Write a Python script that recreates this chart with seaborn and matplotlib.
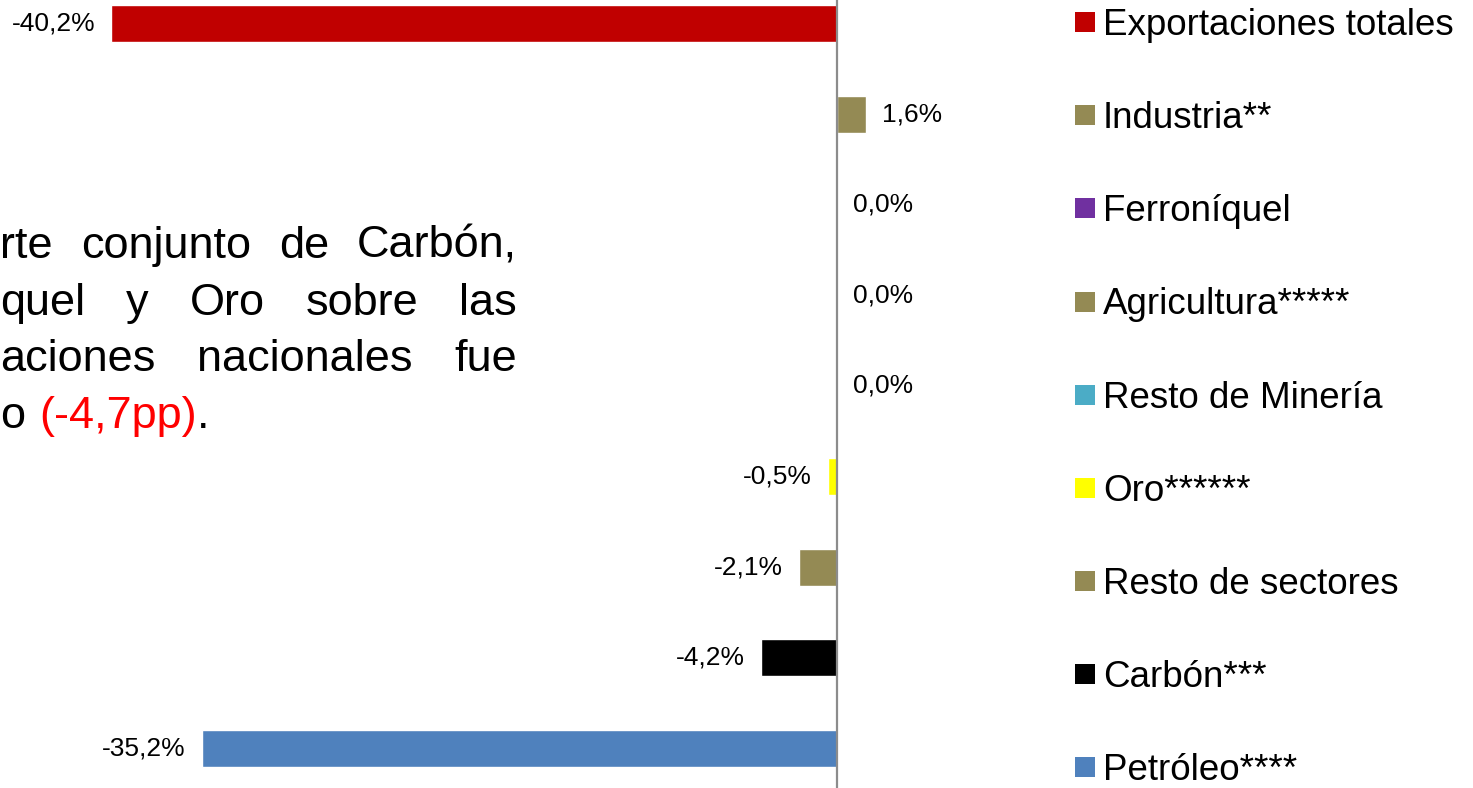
import numpy as np
import pandas as pd
import seaborn as sns
import matplotlib.pyplot as plt
from matplotlib.lines import Line2D

# chart data, top to bottom
categories = ["Exportaciones totales", "Industria**", "Ferroníquel", "Agricultura*****",
              "Resto de Minería", "Oro******", "Resto de sectores", "Carbón***", "Petróleo****"]
values = [-40.2, 1.6, 0.0, 0.0, 0.0, -0.5, -2.1, -4.2, -35.2]
colors = ["#C00000", "#948A54", "#7030A0", "#948A54", "#4BACC6",
          "#FFFF00", "#948A54", "#000000", "#4F81BD"]

# cropped note text on the left (justified lines, last line with red figure)
note_lines = [
    ["rte", "conjunto", "de", "Carbón,"],
    ["quel", "y", "Oro", "sobre", "las"],
    ["aciones", "nacionales", "fue"],
]
note_last = ("o", "(-4,7pp)", ".")

W, H = 1473, 788
sns.set_style("white")
plt.rcParams["font.family"] = ["Liberation Sans", "DejaVu Sans"]
plt.rcParams["text.color"] = "black"

df = pd.DataFrame({"cat": categories, "val": values})

fig = plt.figure(figsize=(W / 100, H / 100), dpi=100)
ax = fig.add_axes([0, 0, 1, 1])

sns.barplot(data=df, x="val", y="cat", hue="cat", palette=colors, orient="h",
            width=0.41, legend=False, ax=ax, saturation=1)

# pixel mapping: zero at x=837, ~18.05 px per %, rows 90.6 px apart
px_per = 18.05
ax.set_xlim(-837 / px_per, (W - 837) / px_per)
ax.set_ylim((H - 23.5) / 90.6, -23.5 / 90.6)
ax.axvline(0, color="#8C8C8C", lw=1.6, zorder=3)
ax.set_axis_off()

for cont in ax.containers:
    labs = []
    for bar in cont:
        v = bar.get_width()
        labs.append(f"{v:.1f}%".replace(".", ","))
    ax.bar_label(cont, labels=labs, padding=11.5, fontsize=19, color="black")

handles = [Line2D([], [], marker="s", linestyle="none", markersize=13.7,
                  markerfacecolor=c, markeredgewidth=0) for c in colors]
fig.legend(handles, categories, loc="upper left", bbox_to_anchor=(1073.5 / W, 1 - 8 / H),
           frameon=False, borderpad=0, fontsize=26.5, handlelength=0.6,
           handletextpad=0.2, labelspacing=1.58, borderaxespad=0, labelcolor="black")

# justified note text
renderer = fig.canvas.get_renderer()
fs_note = 32.5
x_right = 517
baselines = [258, 315, 371, 428]


def put(x, y, s, color="black", ha="left"):
    return fig.text(x / W, 1 - y / H, s, fontsize=fs_note, color=color, ha=ha, va="baseline")


for words, yb in zip(note_lines, baselines):
    texts = [put(0, yb, w) for w in words]
    widths = [t.get_window_extent(renderer).width for t in texts]
    gap = (x_right - sum(widths)) / (len(words) - 1)
    x = 0
    for t, w in zip(texts, widths):
        t.set_x(x / W)
        x += w + gap

x = 0
t0 = put(x, baselines[3], note_last[0])
x += t0.get_window_extent(renderer).width + 14
t1 = put(x, baselines[3], note_last[1], color="#FF0000")
x += t1.get_window_extent(renderer).width
put(x, baselines[3], note_last[2])

fig.savefig("out.png", dpi=100)
